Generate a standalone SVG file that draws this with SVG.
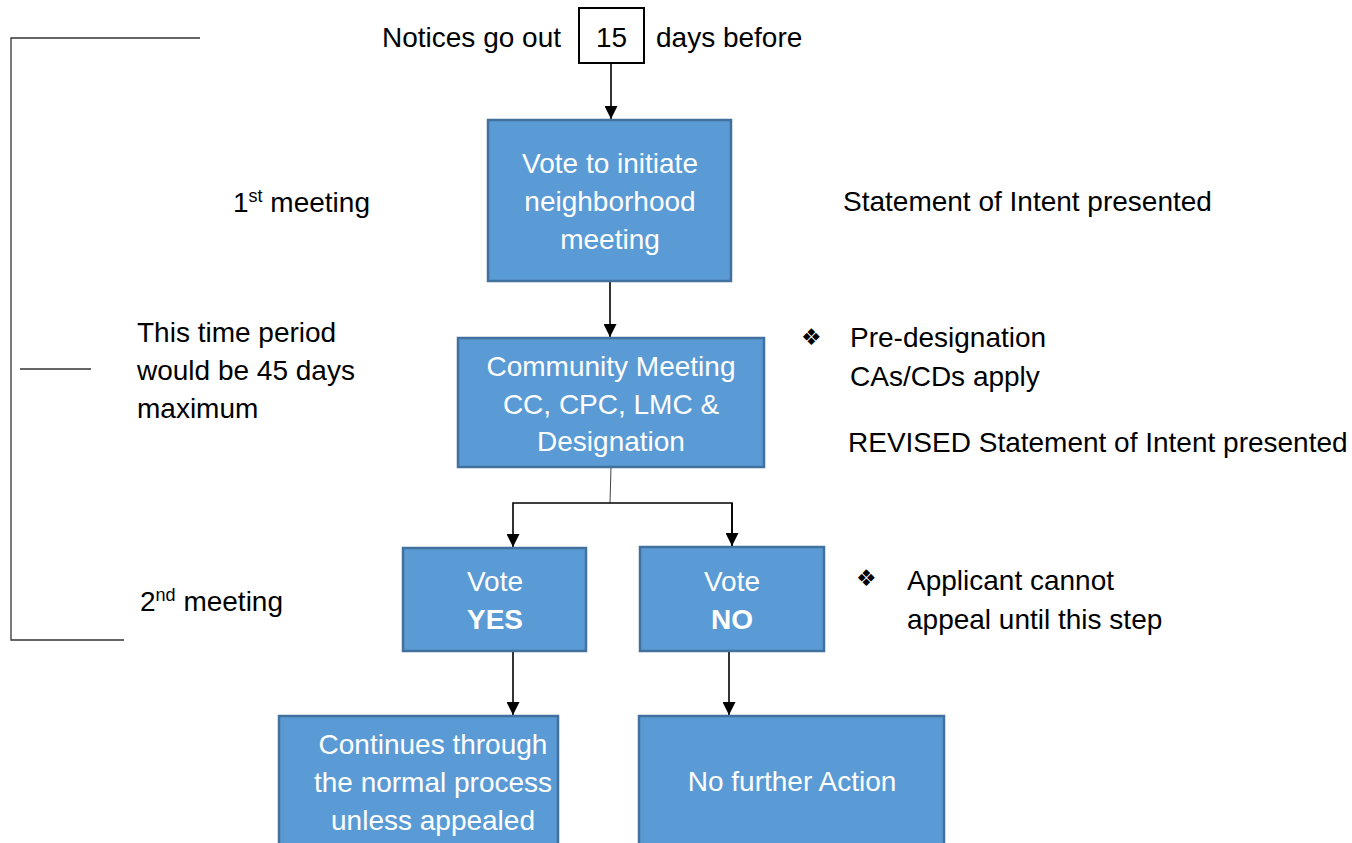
<svg xmlns="http://www.w3.org/2000/svg" width="1352" height="843" viewBox="0 0 1352 843">
<defs>
<style>
.t{font-family:"Liberation Sans",Arial,sans-serif;font-size:28px;fill:#000}
.w{font-family:"Liberation Sans",Arial,sans-serif;font-size:28px;fill:#fff;text-anchor:middle}
.b{font-weight:bold}
.box{fill:#5B9BD5;stroke:#41719C;stroke-width:2.5}
.ln{stroke:#000;stroke-width:1.6;fill:none}
.br{stroke:#333;stroke-width:1.3;fill:none}
.sup{font-size:18px}
.bul{font-family:"DejaVu Sans",sans-serif;font-size:23px;fill:#000}
</style>
<marker id="ah" markerWidth="13" markerHeight="13" refX="10" refY="5" orient="auto" markerUnits="userSpaceOnUse" viewBox="0 0 10 10">
<path d="M0,0 L10,5 L0,10 z" fill="#000"/>
</marker>
</defs>
<rect width="1352" height="843" fill="#fff"/>

<g id="bracket">
<path class="br" d="M200,38 H11 V640 H124"/>
<path class="br" d="M20,369 H91"/>
</g>

<g id="connectors">
<line class="ln" x1="611" y1="63" x2="611" y2="119" marker-end="url(#ah)"/>
<line class="ln" x1="610" y1="281" x2="610" y2="337" marker-end="url(#ah)"/>
<path stroke="#444" stroke-width="1" fill="none" d="M611,467 L610,503"/>
<path class="ln" d="M732,547 V503 H513 V547" marker-end="url(#ah)"/>
<line class="ln" x1="732" y1="503" x2="732" y2="546" marker-end="url(#ah)"/>
<line class="ln" x1="513" y1="651" x2="513" y2="715" marker-end="url(#ah)"/>
<line class="ln" x1="729" y1="651" x2="729" y2="715" marker-end="url(#ah)"/>
</g>

<g id="notices">
<text class="t" x="382" y="47">Notices go out</text>
<rect x="579" y="8" width="65" height="55" fill="#fff" stroke="#000" stroke-width="2"/>
<text class="t" x="611.5" y="47" text-anchor="middle">15</text>
<text class="t" x="656" y="47">days before</text>
</g>

<g id="node-initiate">
<rect class="box" x="488" y="120" width="243" height="161"/>
<text class="w" x="610" y="173">Vote to initiate</text>
<text class="w" x="610" y="211">neighborhood</text>
<text class="w" x="610" y="249">meeting</text>
</g>

<g id="node-community">
<rect class="box" x="458" y="338" width="306" height="129"/>
<text class="w" x="611" y="376">Community Meeting</text>
<text class="w" x="611" y="414">CC, CPC, LMC &amp;</text>
<text class="w" x="611" y="451">Designation</text>
</g>

<g id="node-yes">
<rect class="box" x="403" y="548" width="183" height="103"/>
<text class="w" x="495" y="591">Vote</text>
<text class="w b" x="495" y="629">YES</text>
</g>

<g id="node-no">
<rect class="box" x="640" y="547" width="184" height="104"/>
<text class="w" x="732" y="591">Vote</text>
<text class="w b" x="732" y="629">NO</text>
</g>

<g id="node-continues">
<rect class="box" x="279" y="716" width="279" height="140"/>
<text class="w" x="433" y="754">Continues through</text>
<text class="w" x="433" y="792">the normal process</text>
<text class="w" x="433" y="830">unless appealed</text>
</g>

<g id="node-nofurther">
<rect class="box" x="639" y="716" width="305" height="140"/>
<text class="w" x="792" y="791">No further Action</text>
</g>

<g id="left-labels">
<text class="t" x="233" y="212">1<tspan class="sup" dy="-10">st</tspan><tspan dy="10"> meeting</tspan></text>
<text class="t" x="137" y="342">This time period</text>
<text class="t" x="137" y="380">would be 45 days</text>
<text class="t" x="137" y="418">maximum</text>
<text class="t" x="140" y="611">2<tspan class="sup" dy="-10">nd</tspan><tspan dy="10"> meeting</tspan></text>
</g>

<g id="right-labels">
<text class="t" x="843" y="211">Statement of Intent presented</text>
<text class="bul" x="801" y="345">❖</text>
<text class="t" x="850" y="347">Pre-designation</text>
<text class="t" x="850" y="386">CAs/CDs apply</text>
<text class="t" x="848" y="452">REVISED Statement of Intent presented</text>
<text class="bul" x="856" y="586">❖</text>
<text class="t" x="907" y="590">Applicant cannot</text>
<text class="t" x="907" y="629">appeal until this step</text>
</g>
</svg>
